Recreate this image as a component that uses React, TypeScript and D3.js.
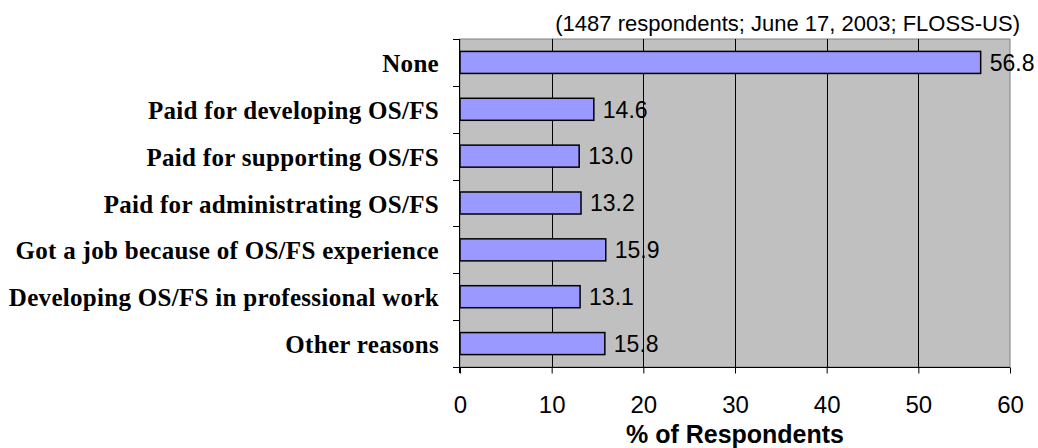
import React, { useEffect, useRef } from 'react';
import * as d3 from 'd3';

const categories = [
  'None',
  'Paid for developing OS/FS',
  'Paid for supporting OS/FS',
  'Paid for administrating OS/FS',
  'Got a job because of OS/FS experience',
  'Developing OS/FS in professional work',
  'Other reasons',
];
const values = [56.8, 14.6, 13.0, 13.2, 15.9, 13.1, 15.8];
const xTicks = [0, 10, 20, 30, 40, 50, 60];
const subtitle = '(1487 respondents; June 17, 2003; FLOSS-US)';
const xTitle = '% of Respondents';

const W = 1038;
const H = 448;
const plot = { left: 460, right: 1010, top: 39, bottom: 367 };
const sans = 'Liberation Sans, Arial, sans-serif';

const App = () => {
  const ref = useRef<SVGSVGElement>(null);

  useEffect(() => {
    const svg = d3.select(ref.current);
    svg.selectAll('*').remove();

    const x = d3.scaleLinear().domain([0, 60]).range([plot.left, plot.right]);
    const y = d3.scaleBand()
      .domain(categories)
      .range([plot.top, plot.bottom])
      .paddingInner(0.53)
      .paddingOuter(0.265);
    const band = (plot.bottom - plot.top) / categories.length;

    // plot background
    svg.append('rect')
      .attr('x', plot.left)
      .attr('y', plot.top)
      .attr('width', plot.right - plot.left)
      .attr('height', plot.bottom - plot.top)
      .attr('fill', '#c0c0c0')
      .attr('stroke', '#808080')
      .attr('stroke-width', 1);

    // vertical gridlines
    svg.append('g')
      .selectAll('line')
      .data(xTicks.slice(1, -1))
      .enter()
      .append('line')
      .attr('x1', d => Math.round(x(d)) + 0.5)
      .attr('x2', d => Math.round(x(d)) + 0.5)
      .attr('y1', plot.top)
      .attr('y2', plot.bottom)
      .attr('stroke', '#000')
      .attr('stroke-width', 1);

    // bars
    svg.append('g')
      .selectAll('rect')
      .data(values)
      .enter()
      .append('rect')
      .attr('x', x(0))
      .attr('y', (d, i) => y(categories[i])!)
      .attr('width', d => x(d) - x(0))
      .attr('height', y.bandwidth())
      .attr('fill', '#9999ff')
      .attr('stroke', '#000')
      .attr('stroke-width', 1.5);

    // value labels
    svg.append('g')
      .selectAll('text')
      .data(values)
      .enter()
      .append('text')
      .attr('x', d => x(d) + 9)
      .attr('y', (d, i) => y(categories[i])! + y.bandwidth() / 2)
      .attr('dy', '0.36em')
      .attr('font-family', sans)
      .attr('font-size', 23)
      .attr('fill', '#000')
      .text(d => d.toFixed(1));

    // left axis line + category boundary ticks
    svg.append('line')
      .attr('x1', plot.left - 0.5).attr('x2', plot.left - 0.5)
      .attr('y1', plot.top).attr('y2', plot.bottom + 6)
      .attr('stroke', '#000');
    svg.append('g')
      .selectAll('line')
      .data(d3.range(categories.length + 1))
      .enter()
      .append('line')
      .attr('x1', plot.left - 7)
      .attr('x2', plot.left)
      .attr('y1', i => Math.round(plot.top + i * band) + 0.5)
      .attr('y2', i => Math.round(plot.top + i * band) + 0.5)
      .attr('stroke', '#000');

    // category labels
    svg.append('g')
      .selectAll('text')
      .data(categories)
      .enter()
      .append('text')
      .attr('x', 439)
      .attr('y', d => y(d)! + y.bandwidth() / 2)
      .attr('dy', '0.38em')
      .attr('text-anchor', 'end')
      .attr('font-family', 'Liberation Serif, Times New Roman, serif')
      .attr('font-weight', 'bold')
      .attr('font-size', 25)
      .attr('letter-spacing', 0.3)
      .attr('fill', '#000')
      .text(d => d);

    // bottom axis
    const xAxis = d3.axisBottom(x).tickValues(xTicks).tickSize(6).tickPadding(22);
    const gx = svg.append('g')
      .attr('transform', `translate(0, ${plot.bottom + 0.5})`)
      .call(xAxis);
    gx.select('.domain').attr('d', `M${plot.left},0H${plot.right}`).attr('stroke', '#000');
    gx.selectAll('.tick line').attr('stroke', '#000');
    gx.selectAll('.tick text')
      .attr('font-family', sans)
      .attr('font-size', 24)
      .attr('fill', '#000');

    // axis title
    svg.append('text')
      .attr('x', (plot.left + plot.right) / 2)
      .attr('y', 443)
      .attr('text-anchor', 'middle')
      .attr('font-family', sans)
      .attr('font-weight', 'bold')
      .attr('font-size', 25)
      .attr('fill', '#000')
      .text(xTitle);

    // subtitle
    svg.append('text')
      .attr('x', 1020)
      .attr('y', 31)
      .attr('text-anchor', 'end')
      .attr('font-family', sans)
      .attr('font-size', 22)
      .attr('fill', '#000')
      .text(subtitle);
  }, []);

  return (
    <svg ref={ref} width={W} height={H} style={{ position: 'absolute', left: 0, top: 0, background: '#fff' }}></svg>
  );
};

export default App;
